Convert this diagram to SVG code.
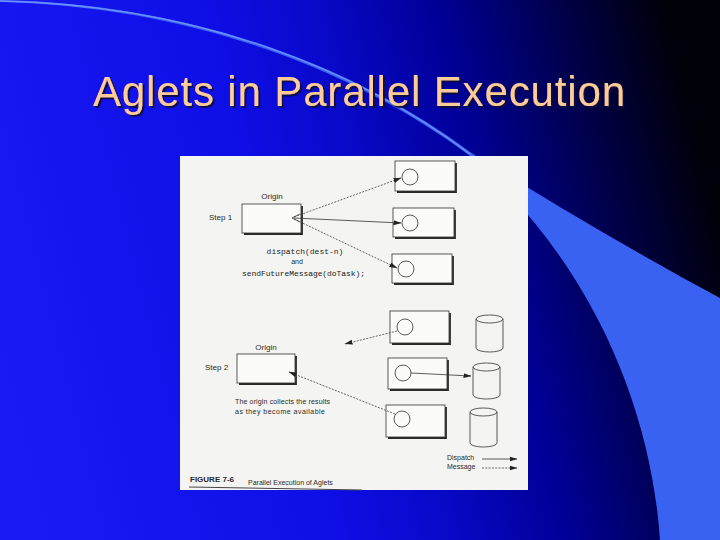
<svg xmlns="http://www.w3.org/2000/svg" width="720" height="540" viewBox="0 0 720 540">
<defs>
<linearGradient id="bg" gradientUnits="userSpaceOnUse" x1="0" y1="400" x2="720" y2="220">
<stop offset="0" stop-color="#1a1af5"/>
<stop offset="0.4" stop-color="#0e0ee6"/>
<stop offset="0.55" stop-color="#0808c6"/>
<stop offset="0.7" stop-color="#000096"/>
<stop offset="0.85" stop-color="#00004e"/>
<stop offset="1" stop-color="#000008"/>
</linearGradient>
<filter id="ds" x="-5%" y="-20%" width="110%" height="150%">
<feDropShadow dx="2" dy="2" stdDeviation="0.7" flood-color="#0a0a3a" flood-opacity="0.9"/>
</filter>
<marker id="ah" viewBox="0 0 8 6" refX="7.5" refY="3" markerWidth="8" markerHeight="6" markerUnits="userSpaceOnUse" orient="auto">
<path d="M0,0.5 L8,3 L0,5.5 Z" fill="#222"/>
</marker>
<style>
.title{font-family:"Liberation Sans",Arial,sans-serif;font-size:42px;fill:#ffcc99}
.t{font-family:"Liberation Sans",Arial,sans-serif;font-size:8px;fill:#2a2a2a}
.s{font-family:"Liberation Sans",Arial,sans-serif;font-size:7px;fill:#2a2a2a}
.m{font-family:"Liberation Mono","Courier New",monospace;font-size:8px;fill:#222}
.box{fill:#fbfbf9;stroke:#333;stroke-width:0.8}
.sh{fill:none;stroke:#2a2a2a;stroke-width:1.8}
.c{fill:none;stroke:#333;stroke-width:0.8}
.ln{fill:none;stroke:#333;stroke-width:0.8}
.dl{fill:none;stroke:#444;stroke-width:0.8;stroke-dasharray:2 1.3}
</style>
</defs>

<!-- background -->
<rect x="0" y="0" width="720" height="540" fill="url(#bg)"/>
<path d="M0,0 C200,4 360,70 470,152 C560,208 640,255 720,298 L720,540 L660,540 C652,420 600,270 470,156 C360,74 200,7 0,2 Z" fill="#3a62f2"/>
<path d="M0,1 C200,5 360,71 470,154" fill="none" stroke="#6f8fff" stroke-width="1.3"/>

<!-- title -->
<text class="title" x="93" y="106" textLength="532" filter="url(#ds)">Aglets in Parallel Execution</text>

<!-- figure paper -->
<rect x="180" y="156" width="348" height="334" fill="#f4f4f2"/>

<!-- Step 1 -->
<g id="step1-origin">
<text class="t" x="272" y="199" text-anchor="middle">Origin</text>
<text class="t" x="209" y="220">Step 1</text>
<rect class="box" x="242" y="204" width="59" height="29"/>
<polyline class="sh" points="302,206 302,234 244,234"/>
<path d="M300,214 L292,218 L300,222" class="ln"/>
</g>
<g id="step1-agletA">
<rect class="box" x="395" y="161" width="60" height="30"/>
<polyline class="sh" points="456,163 456,192 397,192"/>
<circle class="c" cx="410" cy="177" r="8"/>
</g>
<g id="step1-agletB">
<rect class="box" x="393" y="208" width="61" height="29"/>
<polyline class="sh" points="455,210 455,238 395,238"/>
<circle class="c" cx="410" cy="223" r="8"/>
</g>
<g id="step1-agletC">
<rect class="box" x="392" y="254" width="60" height="29"/>
<polyline class="sh" points="453,256 453,284 394,284"/>
<circle class="c" cx="406" cy="269" r="8"/>
</g>
<g id="step1-code">
<text class="m" x="305" y="254" text-anchor="middle">dispatch(dest-n)</text>
<text class="s" x="297" y="264" text-anchor="middle">and</text>
<text class="m" x="242" y="276" textLength="123">sendFutureMessage(doTask);</text>
</g>

<!-- Step 2 -->
<g id="step2-origin">
<text class="t" x="266" y="350" text-anchor="middle">Origin</text>
<text class="t" x="205" y="370">Step 2</text>
<rect class="box" x="237" y="354" width="58" height="29"/>
<polyline class="sh" points="296,356 296,384 239,384"/>
<text class="s" x="235" y="404" textLength="95" font-size="7.5">The origin collects the results</text>
<text class="s" x="235" y="414" textLength="90" font-size="7.5">as they become available</text>
</g>
<g id="step2-agletD">
<rect class="box" x="390" y="311" width="59" height="32"/>
<polyline class="sh" points="450,313 450,344 392,344"/>
<circle class="c" cx="405" cy="327" r="8"/>
</g>
<g id="step2-agletE">
<rect class="box" x="388" y="358" width="59" height="31"/>
<polyline class="sh" points="448,360 448,390 390,390"/>
<circle class="c" cx="403" cy="373" r="8"/>
</g>
<g id="step2-agletF">
<rect class="box" x="386" y="405" width="59" height="32"/>
<polyline class="sh" points="446,407 446,438 388,438"/>
<circle class="c" cx="402" cy="419" r="8"/>
</g>
<g id="db1">
<path class="c" d="M476,319 L476,348 A13.5,4 0 0 0 503,348 L503,319"/>
<ellipse class="c" cx="489.5" cy="319" rx="13.5" ry="4"/>
</g>
<g id="db2">
<path class="c" d="M473,367 L473,395 A13.5,4 0 0 0 500,395 L500,367"/>
<ellipse class="c" cx="486.5" cy="367" rx="13.5" ry="4"/>
</g>
<g id="db3">
<path class="c" d="M470,412 L470,443 A13.5,4 0 0 0 497,443 L497,412"/>
<ellipse class="c" cx="483.5" cy="412" rx="13.5" ry="4"/>
</g>

<!-- legend -->
<g id="legend">
<text class="s" x="447" y="460">Dispatch</text>
<text class="s" x="447" y="469">Message</text>
</g>

<!-- caption -->
<g id="caption">
<text class="t" x="190" y="482" font-weight="bold" fill="#333">FIGURE 7-6</text>
<text class="s" x="248" y="485" font-size="7.5">Parallel Execution of Aglets</text>
<line x1="189" y1="487" x2="362" y2="490" stroke="#444" stroke-width="1"/>
</g>

<!-- connectors -->
<g id="connectors">
<line class="dl" x1="294" y1="217" x2="401" y2="178" marker-end="url(#ah)"/>
<line class="ln" x1="294" y1="218" x2="401" y2="223" marker-end="url(#ah)"/>
<line class="dl" x1="294" y1="219" x2="397" y2="268" marker-end="url(#ah)"/>
<line class="dl" x1="397" y1="331" x2="345" y2="344" marker-end="url(#ah)"/>
<line class="ln" x1="411" y1="373" x2="471" y2="376" marker-end="url(#ah)"/>
<line class="dl" x1="395" y1="414" x2="289" y2="372" marker-end="url(#ah)"/>
<line class="ln" x1="482" y1="459" x2="517" y2="459" marker-end="url(#ah)"/>
<line class="dl" x1="482" y1="468" x2="517" y2="468" marker-end="url(#ah)"/>
</g>
</svg>
